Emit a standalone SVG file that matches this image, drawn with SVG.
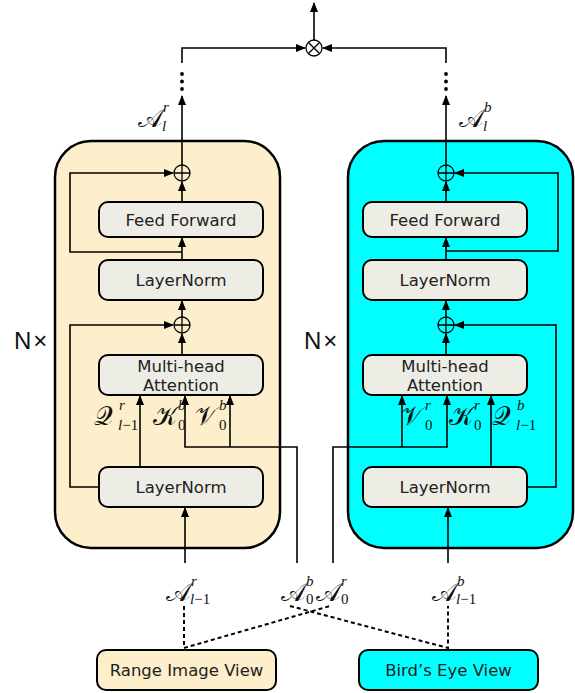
<svg xmlns="http://www.w3.org/2000/svg" width="575" height="693" viewBox="0 0 575 693">
<defs>
<marker id="ah" markerWidth="10" markerHeight="8" refX="9" refY="4" orient="auto" markerUnits="userSpaceOnUse">
<path d="M0,0 L10,4 L0,8 Z" fill="#000"/>
</marker>
</defs>
<style>
.cont{stroke:#000;stroke-width:2.5}
.box{fill:#EDEDE6;stroke:#000;stroke-width:2}
.lbl{font-family:"DejaVu Sans",Verdana,sans-serif;font-size:16.5px;fill:#222;text-anchor:middle}
.arr{fill:none;stroke:#000;stroke-width:1.6;marker-end:url(#ah)}
.dash{fill:none;stroke:#000;stroke-width:2;stroke-dasharray:4,3}
.op{fill:none;stroke:#000;stroke-width:1.3}
.m{font-family:"DejaVu Serif","Liberation Serif",serif;font-size:26px;fill:#111}
.s{font-family:"Liberation Serif",serif;font-size:15px;font-style:normal;fill:#111}
.si{font-family:"Liberation Serif",serif;font-size:15px;font-style:italic;fill:#111}
.nx{font-family:"Liberation Sans",Arial,sans-serif;font-size:24px;fill:#111;letter-spacing:2px}
</style>

<g id="left-block">
<rect x="55" y="141" width="225" height="407" rx="36" fill="#FDEFCC" class="cont"/>
</g>
<g id="right-block">
<rect x="348" y="141" width="225" height="407" rx="36" fill="#00FFFF" class="cont"/>
</g>

<g id="l-ff"><rect x="99" y="202" width="164" height="35" rx="9" class="box"/><text x="181" y="225.5" class="lbl">Feed Forward</text></g>
<g id="l-ln1"><rect x="99" y="260" width="164" height="40" rx="9" class="box"/><text x="181" y="286" class="lbl">LayerNorm</text></g>
<g id="l-mha"><rect x="99" y="355" width="164" height="40" rx="9" class="box"/><text x="181" y="372" class="lbl">Multi-head</text><text x="181" y="391" class="lbl">Attention</text></g>
<g id="l-ln0"><rect x="99" y="467" width="164" height="40" rx="9" class="box"/><text x="181" y="493" class="lbl">LayerNorm</text></g>

<g id="r-ff"><rect x="363" y="202" width="164" height="35" rx="9" class="box"/><text x="445" y="225.5" class="lbl">Feed Forward</text></g>
<g id="r-ln1"><rect x="363" y="260" width="164" height="40" rx="9" class="box"/><text x="445" y="286" class="lbl">LayerNorm</text></g>
<g id="r-mha"><rect x="363" y="355" width="164" height="40" rx="9" class="box"/><text x="445" y="372" class="lbl">Multi-head</text><text x="445" y="391" class="lbl">Attention</text></g>
<g id="r-ln0"><rect x="363" y="467" width="164" height="40" rx="9" class="box"/><text x="445" y="493" class="lbl">LayerNorm</text></g>

<g id="range-view"><rect x="97" y="650" width="179" height="40" rx="9" fill="#FDEFCC" stroke="#000" stroke-width="2"/><text x="186.5" y="676" class="lbl">Range Image View</text></g>
<g id="bev-view"><rect x="359" y="650" width="179" height="40" rx="9" fill="#00FFFF" stroke="#000" stroke-width="2"/><text x="448.5" y="676" class="lbl">Bird’s Eye View</text></g>

<g id="ops">
<g class="op"><circle cx="182" cy="173" r="8"/><path d="M174,173H190M182,165V181"/></g>
<g class="op"><circle cx="182" cy="325" r="8"/><path d="M174,325H190M182,317V333"/></g>
<g class="op"><circle cx="446" cy="173" r="8"/><path d="M438,173H454M446,165V181"/></g>
<g class="op"><circle cx="446" cy="325" r="8"/><path d="M438,325H454M446,317V333"/></g>
<g class="op"><circle cx="314" cy="48" r="8"/><path d="M308.3,42.3L319.7,53.7M319.7,42.3L308.3,53.7"/></g>
</g>

<g id="connectors">
<path class="arr" d="M314,40V3"/>
<path class="arr" d="M182,63V48H305"/>
<path class="arr" d="M446,63V48H323"/>
<g fill="#000"><circle cx="182" cy="74" r="1.9"/><circle cx="182" cy="81.5" r="1.9"/><circle cx="182" cy="89" r="1.9"/>
<circle cx="446" cy="74" r="1.9"/><circle cx="446" cy="81.5" r="1.9"/><circle cx="446" cy="89" r="1.9"/></g>
<path class="arr" d="M182,165V96"/>
<path class="arr" d="M446,165V96"/>

<path class="arr" d="M182,202V182"/>
<path class="arr" d="M182,260V238"/>
<path class="arr" d="M182,317V301"/>
<path class="arr" d="M182,355V334"/>
<path class="arr" d="M182,252H70V173H173"/>
<path class="arr" d="M99,487H70V325H173"/>
<path class="arr" d="M140,467V396"/>
<path class="arr" d="M297,563V447H185V396"/>
<path class="arr" d="M230,447V396"/>
<path class="arr" d="M185,563V508"/>

<path class="arr" d="M446,202V182"/>
<path class="arr" d="M446,260V238"/>
<path class="arr" d="M446,317V301"/>
<path class="arr" d="M446,355V334"/>
<path class="arr" d="M446,251H558V173H455"/>
<path class="arr" d="M527,487H556V325H455"/>
<path class="arr" d="M491,467V396"/>
<path class="arr" d="M333,563V447H447V396"/>
<path class="arr" d="M402,447V396"/>
<path class="arr" d="M448,563V508"/>

<path class="dash" d="M184,606V648L330,606"/>
<path class="dash" d="M290,606L448,648V606"/>
</g>

<g id="labels">
<text x="14" y="349" class="nx">N×</text>
<text x="304" y="349" class="nx">N×</text>

<text x="138" y="127" class="m">𝒜</text><text x="163" y="112" class="si">r</text><text x="162" y="131" class="si">l</text>
<text x="459" y="127" class="m">𝒜</text><text x="484" y="112" class="si">b</text><text x="483" y="131" class="si">l</text>

<text x="94" y="425" class="m">𝒬</text><text x="119" y="410" class="si">r</text><text x="118" y="430" class="si">l<tspan class="s">−1</tspan></text>
<text x="153" y="425" class="m">𝒦</text><text x="178" y="410" class="si">b</text><text x="178" y="430" class="s">0</text>
<text x="195" y="425" class="m">𝒱</text><text x="219" y="410" class="si">b</text><text x="219" y="430" class="s">0</text>

<text x="401" y="425" class="m">𝒱</text><text x="425" y="410" class="si">r</text><text x="425" y="430" class="s">0</text>
<text x="449" y="425" class="m">𝒦</text><text x="474" y="410" class="si">r</text><text x="474" y="430" class="s">0</text>
<text x="492" y="425" class="m">𝒬</text><text x="517" y="410" class="si">b</text><text x="516" y="430" class="si">l<tspan class="s">−1</tspan></text>

<text x="166" y="601" class="m">𝒜</text><text x="191" y="586" class="si">r</text><text x="190" y="604" class="si">l<tspan class="s">−1</tspan></text>
<text x="281" y="601" class="m">𝒜</text><text x="306" y="586" class="si">b</text><text x="306" y="604" class="s">0</text>
<text x="316" y="601" class="m">𝒜</text><text x="341" y="586" class="si">r</text><text x="341" y="604" class="s">0</text>
<text x="432" y="601" class="m">𝒜</text><text x="457" y="586" class="si">b</text><text x="456" y="604" class="si">l<tspan class="s">−1</tspan></text>
</g>
</svg>
